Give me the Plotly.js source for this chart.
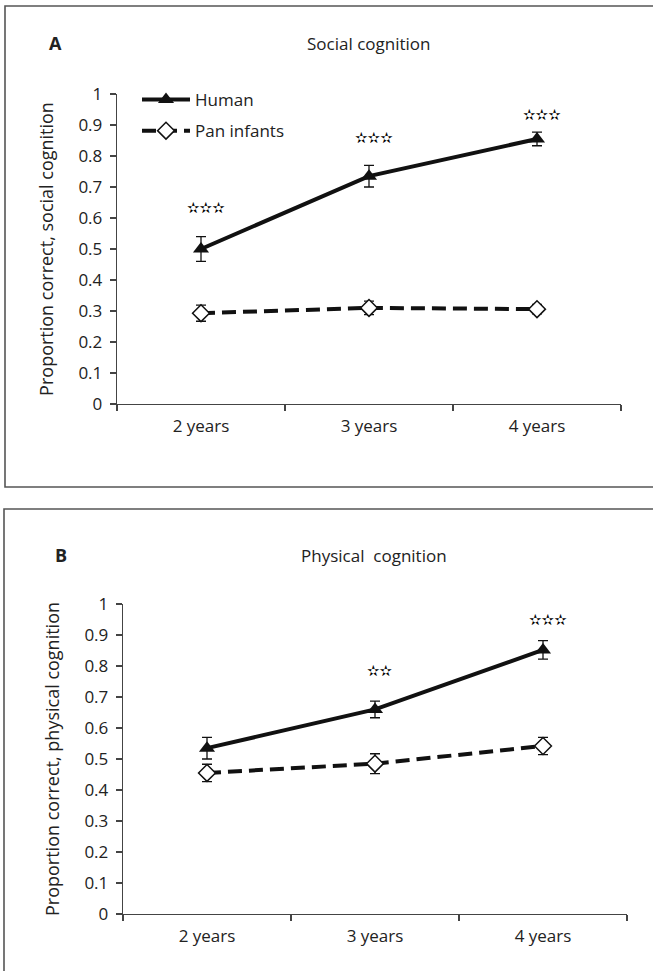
<!DOCTYPE html>
<html>
<head>
<meta charset="utf-8">
<script src="https://cdn.plot.ly/plotly-3.0.1.min.js"></script>
<style>
  html, body { margin: 0; padding: 0; background: #fff; }
  #chart { width: 653px; height: 971px; }
</style>
</head>
<body>
<div id="chart"></div>
<script>
// ---- data ----
const ages = ['2 years', '3 years', '4 years'];

const socialHuman = [0.50, 0.735, 0.855];
const socialHumanErr = [0.04, 0.035, 0.022];
const socialPan = [0.293, 0.31, 0.306];
const socialPanErr = [0.026, 0.022, 0.015];
const socialStars = ['✫✫✫', '✫✫✫', '✫✫✫'];
const socialStarY = [0.632, 0.858, 0.932];

const physicalHuman = [0.535, 0.66, 0.852];
const physicalHumanErr = [0.035, 0.027, 0.03];
const physicalPan = [0.455, 0.485, 0.542];
const physicalPanErr = [0.028, 0.032, 0.028];
const physicalStars = ['', '✫✫', '✫✫✫'];
const physicalStarY = [0, 0.784, 0.948];

const yTicks = [0, 0.1, 0.2, 0.3, 0.4, 0.5, 0.6, 0.7, 0.8, 0.9, 1];
const yTickText = ['0', '0.1', '0.2', '0.3', '0.4', '0.5', '0.6', '0.7', '0.8', '0.9', '1'];

// ---- styling ----
const W = 653, H = 971;
const FONT = 'Open Sans, Lato, sans-serif';
const TXT = '#222';
const AX = '#444';

function humanTrace(y, err, xa, ya, show) {
  return {
    type: 'scatter', mode: 'lines+markers', name: 'Human', legendgroup: 'h',
    x: ages, y: y, xaxis: xa, yaxis: ya, showlegend: show,
    line: { color: '#111', width: 4 },
    marker: { symbol: 'triangle-up', size: 14, color: '#111' },
    error_y: { type: 'data', array: err, visible: true, color: '#111', thickness: 1.3, width: 5 }
  };
}
function panTrace(y, err, xa, ya, show) {
  return {
    type: 'scatter', mode: 'lines+markers', name: 'Pan infants', legendgroup: 'p',
    x: ages, y: y, xaxis: xa, yaxis: ya, showlegend: show,
    line: { color: '#111', width: 4, dash: '14px,7px' },
    marker: { symbol: 'diamond', size: 13, color: '#fff', line: { color: '#111', width: 1.5 } },
    error_y: { type: 'data', array: err, visible: true, color: '#111', thickness: 1.3, width: 5 }
  };
}

const data = [
  humanTrace(socialHuman, socialHumanErr, 'x', 'y', true),
  panTrace(socialPan, socialPanErr, 'x', 'y', true),
  humanTrace(physicalHuman, physicalHumanErr, 'x2', 'y2', false),
  panTrace(physicalPan, physicalPanErr, 'x2', 'y2', false)
];

function xAxis(domain, anchor) {
  return {
    domain: domain, anchor: anchor, type: 'category', range: [-0.5, 2.5],
    tickson: 'boundaries', ticks: 'outside', ticklen: 6, tickwidth: 1.3, tickcolor: AX,
    showline: true, linecolor: AX, linewidth: 1.3, showgrid: false, zeroline: false,
    tickfont: { family: FONT, size: 17, color: TXT }, ticklabelstandoff: 6, fixedrange: true
  };
}
function yAxis(domain, anchor, title) {
  return {
    domain: domain, anchor: anchor, range: [0, 1], tickvals: yTicks, ticktext: yTickText,
    ticks: 'outside', ticklen: 6, tickwidth: 1.3, tickcolor: AX,
    showline: true, linecolor: AX, linewidth: 1.3, showgrid: false, zeroline: false,
    tickfont: { family: FONT, size: 17, color: TXT }, ticklabelstandoff: 4,
    title: { text: title, font: { family: FONT, size: 18, color: TXT }, standoff: 20 },
    fixedrange: true
  };
}

const annotations = [];
function starAnn(labels, ys, xa, ya) {
  labels.forEach((t, i) => {
    if (!t) return;
    annotations.push({
      x: ages[i], y: ys[i], xref: xa, yref: ya, text: '<b>' + t + '</b>', showarrow: false, xshift: 5,
      font: { family: 'DejaVu Sans', size: 15, color: '#000' }
    });
  });
}
starAnn(socialStars, socialStarY, 'x', 'y');
starAnn(physicalStars, physicalStarY, 'x2', 'y2');

function paperText(text, px, py, size, bold, anchor) {
  annotations.push({
    xref: 'paper', yref: 'paper', x: px / W, y: 1 - py / H, text: bold ? '<b>' + text + '</b>' : text,
    showarrow: false, xanchor: anchor || 'center', yanchor: 'middle',
    font: { family: FONT, size: size, color: TXT }
  });
}
paperText('A', 55, 43, 18, true);
paperText('Social cognition', 368, 43, 17, false);
paperText('B', 61, 555, 18, true);
paperText('Physical\u00a0 cognition', 374, 555, 17, false);

const shapes = [
  { type: 'rect', xref: 'paper', yref: 'paper', x0: 5 / W, x1: 1.05, y0: 1 - 487 / H, y1: 1 - 6 / H,
    line: { color: '#555', width: 1.6 }, fillcolor: 'rgba(0,0,0,0)' },
  { type: 'rect', xref: 'paper', yref: 'paper', x0: 4 / W, x1: 1.05, y0: -0.05, y1: 1 - 509 / H,
    line: { color: '#555', width: 1.6 }, fillcolor: 'rgba(0,0,0,0)' }
];

const layout = {
  width: W, height: H,
  margin: { l: 0, r: 0, t: 0, b: 0, pad: 0 },
  paper_bgcolor: '#fff', plot_bgcolor: 'rgba(0,0,0,0)',
  font: { family: FONT, color: TXT },
  xaxis: xAxis([117 / W, 621 / W], 'y'),
  yaxis: yAxis([1 - 404 / H, 1 - 94 / H], 'x', 'Proportion correct, social cognition'),
  xaxis2: xAxis([123 / W, 627 / W], 'y2'),
  yaxis2: yAxis([1 - 914 / H, 1 - 604 / H], 'x2', 'Proportion correct, physical cognition'),
  showlegend: true,
  legend: {
    x: 137 / W, y: 1 - 82 / H, xanchor: 'left', yanchor: 'top', traceorder: 'grouped',
    bgcolor: 'rgba(0,0,0,0)', borderwidth: 0, itemwidth: 48,
    font: { family: FONT, size: 17, color: TXT }, tracegroupgap: 6
  },
  annotations: annotations,
  shapes: shapes
};

Plotly.newPlot('chart', data, layout, { staticPlot: true, displayModeBar: false });
</script>
</body>
</html>
